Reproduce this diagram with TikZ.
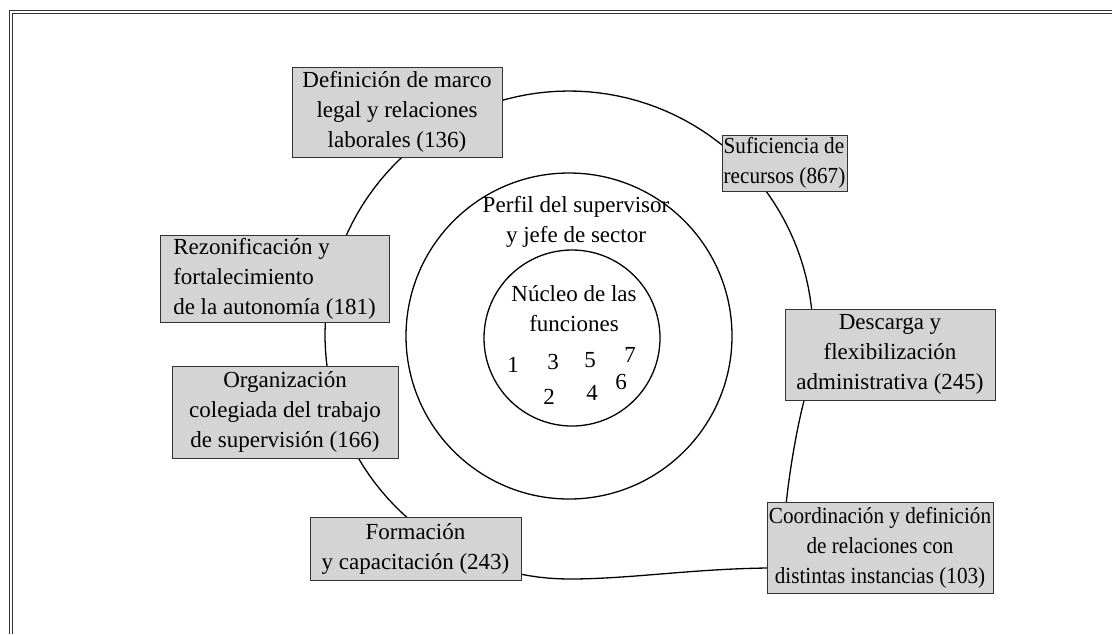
\documentclass[tikz,border=0pt]{standalone}
\usepackage{fontspec}
\setmainfont{Liberation Serif}
\begin{document}
\begin{tikzpicture}[
    x=0.5pt, y=-0.5pt,
    tema/.style={
        draw=black!80, line width=0.5pt, fill=black!17,
        inner xsep=2pt, inner ysep=1pt,
        font=\fontsize{11.5}{15}\selectfont
    },
    estrecho/.style={inner xsep=0.8pt, font=\fontsize{11.5}{15}\selectfont\addfontfeature{FakeStretch=0.92}},
    anillo/.style={draw, circle, line width=0.65pt, inner sep=0pt},
    rotulo/.style={align=center, inner sep=0pt, font=\fontsize{11.5}{15}\selectfont},
    cifra/.style={inner sep=0pt, font=\fontsize{11.5}{14}\selectfont},
    marco/.style={line width=0.5pt, draw=black!80}
]
\useasboundingbox (0,0) rectangle (1112,634);

% Marco doble
\draw[marco] (9.5,634) -- (9.5,10.5) -- (1112,10.5);
\draw[marco] (12.5,634) -- (12.5,13.5) -- (1112,13.5);

% Anillo externo (abierto abajo a la derecha, bajo el ultimo tema)
\draw[line width=0.65pt]
    plot[domain=90:375, samples=120] ({569+244*cos(\x)}, {335+244*sin(\x)})
    .. controls (796.2,430) and (789,475) .. (786,505)
    .. controls (783,535) and (778,566) .. (767,568)
    .. controls (690,569) and (630,579) .. (569,579) -- cycle;

% Anillos interiores
\node[anillo, minimum size=163pt] (perfil)  at (569,336) {};
\node[anillo, minimum size=88pt]  (nucleo)  at (572,338) {};

% Rotulos centrales
\node[rotulo] (rperfil) at (576,222) {Perfil del supervisor\\y jefe de sector};
\node[rotulo] (rnucleo) at (574,309) {Núcleo de las\\funciones};

% Funciones
\node[cifra] (f1) at (513,365) {1};
\node[cifra] (f2) at (549,397) {2};
\node[cifra] (f3) at (553,362) {3};
\node[cifra] (f4) at (592,393) {4};
\node[cifra] (f5) at (590,360) {5};
\node[cifra] (f6) at (621,382) {6};
\node[cifra] (f7) at (630,355) {7};

% Temas sobre el anillo externo
\node[tema, align=center, minimum width=105pt, minimum height=45pt] (legal) at (397,112)
    {Definición de marco\\legal y relaciones\\laborales (136)};
\node[tema, estrecho, align=left, minimum width=62.5pt, minimum height=28pt] (recursos) at (784.5,163)
    {Suficiencia de\\recursos (867)};
\node[tema, align=left, minimum width=114.5pt, minimum height=43.5pt] (autonomia) at (274.5,278.5)
    {Rezonificación y\\fortalecimiento\\de la autonomía (181)};
\node[tema, align=center, minimum width=105pt, minimum height=45.5pt] (descarga) at (890,354.5)
    {Descarga y\\flexibilización\\administrativa (245)};
\node[tema, align=center, minimum width=113pt, minimum height=46pt] (colegiada) at (285,412)
    {Organización\\colegiada del trabajo\\de supervisión (166)};
\node[tema, align=center, minimum width=105.5pt, minimum height=31.5pt] (formacion) at (415.5,548.5)
    {Formación\\y capacitación (243)};
\node[tema, estrecho, align=center, minimum width=113pt, minimum height=45.5pt] (coordinacion) at (880,547.5)
    {Coordinación y definición\\de relaciones con\\distintas instancias (103)};

\end{tikzpicture}
\end{document}
